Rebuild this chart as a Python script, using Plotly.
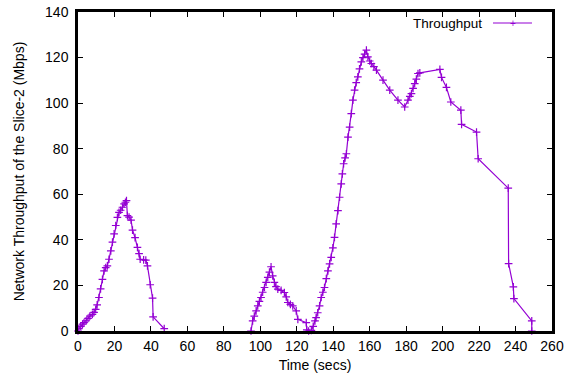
import plotly.graph_objects as go

# Segment 1 (time in secs, throughput Mbps)
t1 = [0, 0.5, 1.5, 2.5, 3.3, 4.5, 5.5, 6.5, 7.9, 8.8, 9.7, 10.5, 11.5, 12.4, 13.4, 14.3, 15.2,
      16.1, 17, 18, 18.9, 19.8, 20.7, 21.6, 22.5, 23.4, 24.4, 25.3, 26, 26.6, 27.1, 28, 29.1,
      29.9, 31.3, 32.6, 33.5, 34.1, 36, 37.2, 38.1, 39.6, 40.9, 41.2, 47.3]
v1 = [0, 1, 2, 3, 3.7, 4.5, 5.5, 6.5, 7.3, 8.2, 9.5, 11.5, 14.7, 18.5, 22.7, 26.4, 27.8,
      28.6, 31.5, 35.2, 39, 42.6, 46.3, 49.9, 52.1, 53, 54.3, 55.8, 56.5, 57.2, 50.6, 50, 48.7,
      44.3, 41, 36.7, 34, 31.5, 31.2, 31.1, 28.6, 20.3, 14.4, 6.2, 1]

# Segment 2
t2 = [94.9, 95.8, 96.7, 97.7, 98.6, 99.5, 100.4, 101.3, 102.3, 103.2, 104.1, 105, 105.9, 106.8,
      107.7, 108.6, 109.6, 111.4, 113.2, 114.2, 115.1, 116.5, 117.8, 119.7, 120.6, 125.2, 125.5,
      126.5, 128, 129, 130, 130.6, 131.5, 132.5, 133.4, 134.3, 135.2, 136.2, 137.1, 138, 138.9,
      139.8, 140.7, 141.6, 142.6, 143.5, 144.4, 145, 145.7, 146.5, 147.2, 148.1, 149, 149.9,
      150.8, 151.7, 152.6, 153.5, 154.4, 155.4, 156.3, 157.2, 158.2, 159, 160, 160.9, 162.3,
      163.7, 167.3, 171, 175.5, 179.2, 181, 182, 182.9, 183.8, 184.7, 185.6, 186.5, 187.5,
      198.5, 199.4, 202.1, 204.5, 210, 210.4, 218.6, 219.5, 236, 236.2, 238.8, 239.1, 248.9, 248.9]
v2 = [0, 4.4, 6.5, 8.8, 11, 13, 14.7, 17, 19.1, 21.3, 23.5, 25.8, 28.2, 24.2,
      21.3, 19.5, 18.4, 17.8, 16.9, 15, 12.5, 11.7, 11, 8.8, 5.1, 3.7, 0.5,
      0, 0.3, 2, 4.4, 5.9, 8, 11, 14.7, 17, 19.1, 23, 26.4, 29.5, 32.3,
      36.5, 41.1, 47, 52.8, 58.7, 64.6, 69, 73.4, 76, 77.8, 85.1, 89.5, 95.4,
      101.3, 105.7, 109, 111.5, 115, 118.1, 120, 121.5, 123.3, 120.3, 118.5, 117.4, 116,
      114.5, 110.1, 105.7, 101.3, 98.3, 101.3, 103, 104.2, 106.5, 108.6, 110.5, 113, 113.3,
      114.8, 111.3, 106.9, 100.5, 96.9, 90.7, 87.3, 75.6, 62.7, 29.6, 19.4, 14.2, 4.4, 0]

x_ticks = list(range(0, 261, 20))
y_ticks = list(range(0, 141, 20))

color = "#9400D3"
font = "Liberation Sans, Arial, sans-serif"
fs = 14

x = t1 + [None] + t2
y = v1 + [None] + v2

fig = go.Figure()
fig.add_trace(go.Scatter(
    x=x, y=y, mode="lines+markers", name="Throughput",
    line=dict(color=color, width=1.2),
    marker=dict(symbol="cross-thin", size=5.5, line=dict(color=color, width=1.2)),
    connectgaps=False, cliponaxis=False, showlegend=False,
))

axis_common = dict(
    showline=True, linecolor="black", linewidth=2.5, mirror="ticks",
    ticks="inside", ticklen=5, tickwidth=1, tickcolor="black",
    showgrid=False, zeroline=False, automargin=False,
    tickfont=dict(family=font, size=fs, color="black"),
)

fig.update_layout(
    width=572, height=376,
    margin=dict(l=78, r=20, t=12, b=45),
    paper_bgcolor="white", plot_bgcolor="white",
    font=dict(family=font, size=fs, color="black"),
    xaxis=dict(range=[0, 260], tickvals=x_ticks,
               title=dict(text="Time (secs)", font=dict(family=font, size=fs), standoff=8),
               **axis_common),
    yaxis=dict(range=[0, 140], tickvals=y_ticks, ticklabelstandoff=4,
               title=dict(text="Network Throughput of the Slice-2 (Mbps)", font=dict(family=font, size=fs), standoff=18),
               **axis_common),
    annotations=[
        dict(x=0.8565, y=0.9655, xref="paper", yref="paper", text="Throughput",
             showarrow=False, xanchor="right", yanchor="middle",
             font=dict(family=font, size=13.5, color="black")),
        dict(x=0.9167, y=0.9655, xref="paper", yref="paper", text="+",
             showarrow=False, xanchor="center", yanchor="middle",
             font=dict(family=font, size=10, color=color)),
    ],
    shapes=[
        dict(type="line", xref="paper", yref="paper", x0=0.8755, x1=0.9578,
             y0=0.9655, y1=0.9655, line=dict(color=color, width=1.2)),
    ],
)

fig.write_html("out.html")
